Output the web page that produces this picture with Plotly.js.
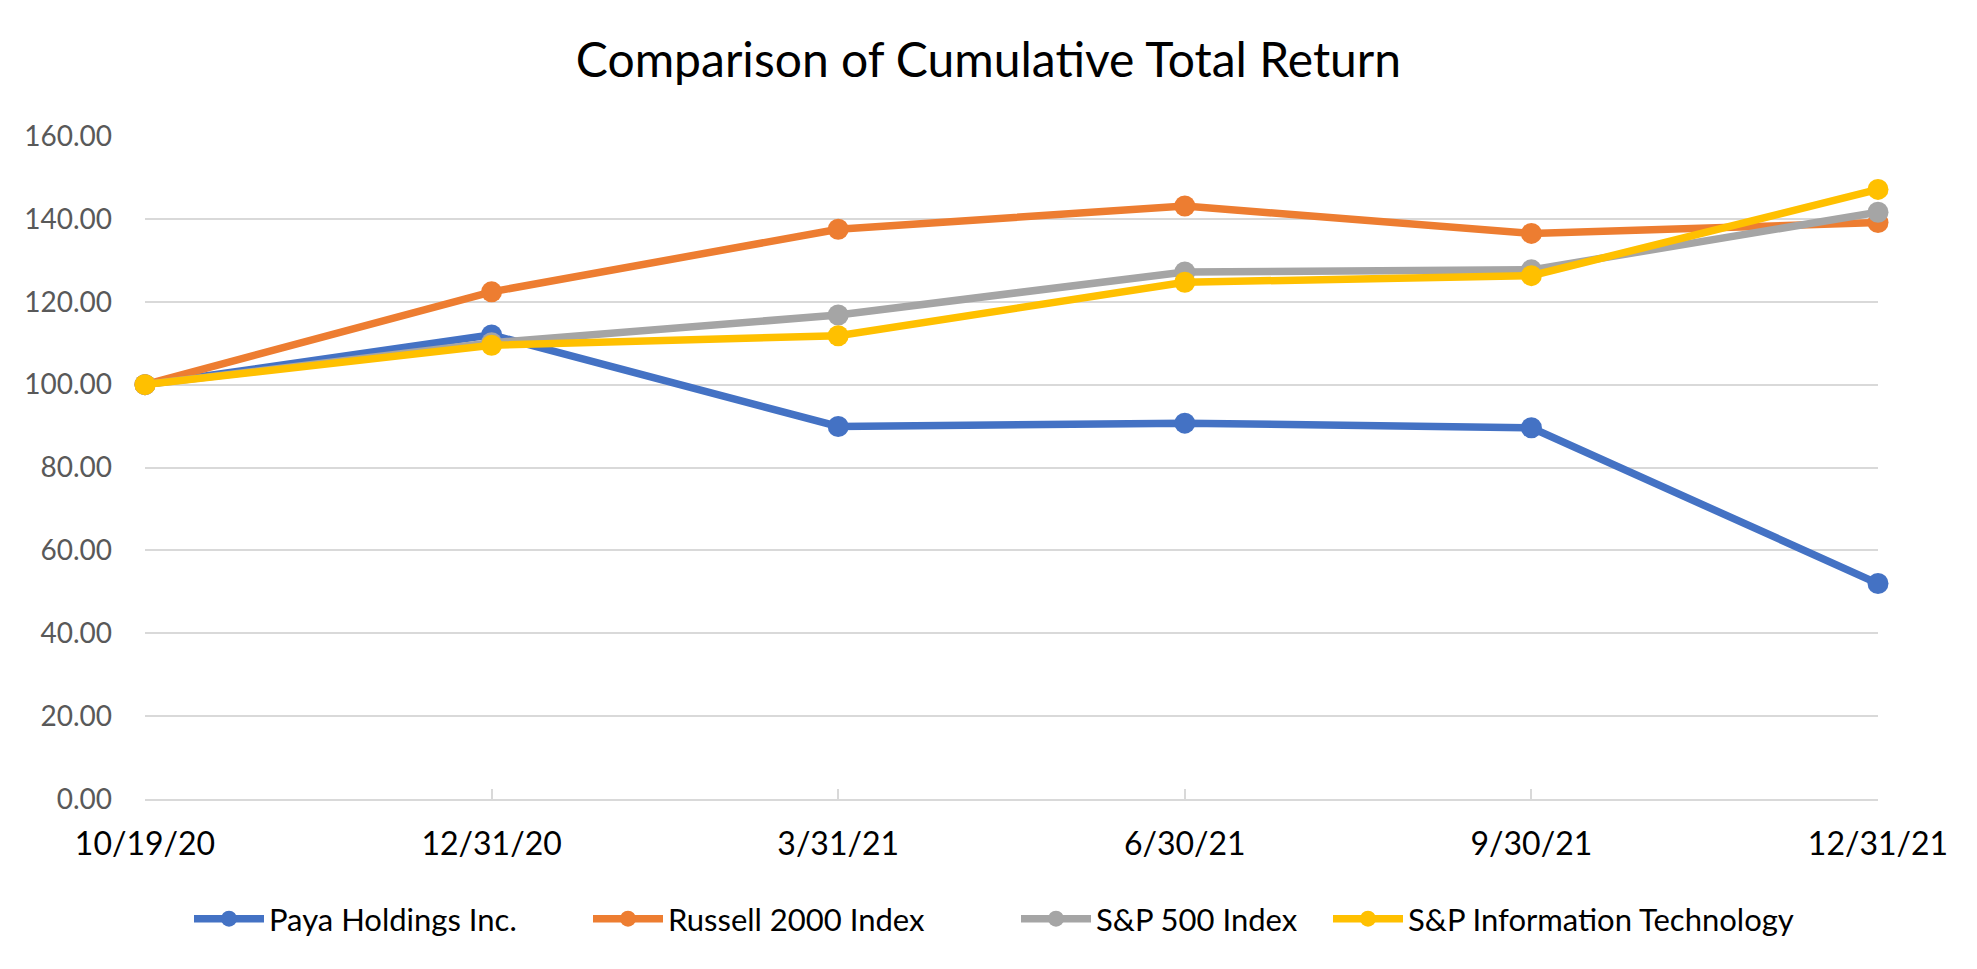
<!DOCTYPE html>
<html>
<head>
<meta charset="utf-8">
<script src="https://cdn.plot.ly/plotly-3.0.1.min.js"></script>
<style>html,body{margin:0;padding:0;background:#fff;}#chart{width:1977px;height:969px;}</style>
</head>
<body>
<div id="chart"></div>
<script>
const categories = ["10/19/20", "12/31/20", "3/31/21", "6/30/21", "9/30/21", "12/31/21"];
const seriesNames = ["Paya Holdings Inc.", "Russell 2000 Index", "S&P 500 Index", "S&P Information Technology"];
const payaValues = [100, 112.0, 89.9, 90.7, 89.6, 52.0];
const russellValues = [100, 122.4, 137.5, 143.1, 136.5, 139.1];
const sp500Values = [100, 110.1, 116.8, 127.2, 127.7, 141.6];
const spITValues = [100, 109.5, 111.8, 124.7, 126.3, 147.1];
const yTickValues = [0, 20, 40, 60, 80, 100, 120, 140, 160];

const colors = ["#4472C4", "#ED7D31", "#A5A5A5", "#FFC000"];
const allValues = [payaValues, russellValues, sp500Values, spITValues];
const legendIds = ["legend", "legend2", "legend3", "legend4"];
const legendX = [189, 588, 1016, 1328];

const W = 1977, H = 969;
const ML = 145, MR = 99;
const FONT = "Lato, 'Open Sans', sans-serif";

const traces = allValues.map((vals, i) => ({
  type: "scatter",
  mode: "lines+markers",
  x: categories,
  y: vals,
  name: seriesNames[i],
  legend: legendIds[i],
  line: {color: colors[i], width: 7.5},
  marker: {color: colors[i], size: 21, symbol: "circle"},
  cliponaxis: false,
  hoverinfo: "x+y+name"
}));

const layout = {
  width: W, height: H,
  paper_bgcolor: "#ffffff",
  plot_bgcolor: "#ffffff",
  margin: {l: ML, r: MR, t: 136, b: 170, pad: 0},
  font: {family: FONT, color: "#000000"},
  title: {
    text: "Comparison of Cumulative Total Return",
    font: {family: FONT, size: 48, color: "#000000"},
    x: 0.5, xref: "container", xanchor: "center",
    y: 1 - 60 / H, yref: "container", yanchor: "middle"
  },
  xaxis: {
    type: "category",
    range: [0, categories.length - 1],
    showgrid: false,
    zeroline: false,
    showline: true,
    linecolor: "#D9D9D9",
    linewidth: 2,
    ticks: "inside",
    ticklen: 10,
    tickwidth: 2,
    tickcolor: "#D9D9D9",
    tickfont: {family: FONT, size: 32, color: "#000000"},
    ticklabelstandoff: 16,
    fixedrange: true
  },
  yaxis: {
    range: [0, 160],
    tickvals: yTickValues,
    tickformat: ".2f",
    showgrid: true,
    gridcolor: "#D9D9D9",
    gridwidth: 2,
    zeroline: false,
    showline: false,
    ticks: "",
    tickfont: {family: FONT, size: 28, color: "#595959"},
    ticklabelstandoff: 32,
    fixedrange: true
  },
  showlegend: true
};

legendIds.forEach((id, i) => {
  layout[id] = {
    orientation: "h",
    x: (legendX[i] - ML) / (W - ML - MR),
    xref: "paper",
    xanchor: "left",
    y: 1 - 919 / H,
    yref: "container",
    yanchor: "middle",
    bgcolor: "rgba(0,0,0,0)",
    borderwidth: 0,
    itemwidth: 70,
    font: {family: FONT, size: 31, color: "#000000"}
  };
});

Plotly.newPlot("chart", traces, layout, {displayModeBar: false, staticPlot: true});
</script>
</body>
</html>
